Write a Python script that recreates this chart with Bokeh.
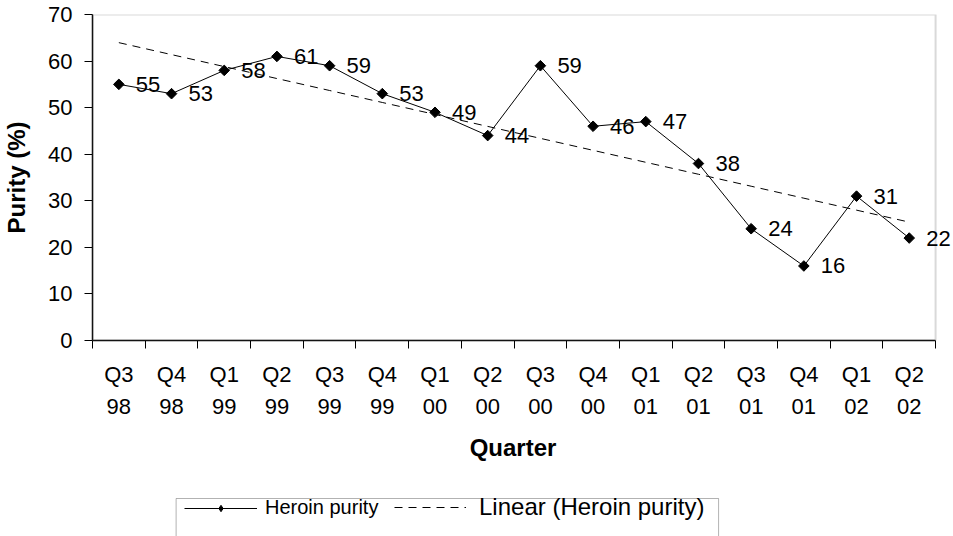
import numpy as np
from bokeh.plotting import figure
from bokeh.layouts import column
from bokeh.models import (Range1d, FixedTicker, Legend, LegendItem,
                          ColumnDataSource, LabelSet, BoxAnnotation)
from bokeh.core.properties import value
from bokeh.embed import file_html
from bokeh.resources import INLINE

# ---- data ----
quarter_labels = ["Q3\n98", "Q4\n98", "Q1\n99", "Q2\n99", "Q3\n99", "Q4\n99",
                  "Q1\n00", "Q2\n00", "Q3\n00", "Q4\n00", "Q1\n01", "Q2\n01",
                  "Q3\n01", "Q4\n01", "Q1\n02", "Q2\n02"]
purity = [55, 53, 58, 61, 59, 53, 49, 44, 59, 46, 47, 38, 24, 16, 31, 22]
y_ticks = [0, 10, 20, 30, 40, 50, 60, 70]
series_name = "Heroin purity"
trend_name = "Linear (Heroin purity)"

FONT = "Liberation Sans"

n = len(purity)
idx = np.arange(n)
xc = idx + 0.5
slope, intercept = np.polyfit(idx, purity, 1)
trend = intercept + slope * idx

src = ColumnDataSource(dict(x=xc, y=purity, lbl=[str(v) for v in purity], trend=trend))

W = 953
LEFT = 88
PLOT_RIGHT = 935          # pixel where the plot area ends
# the frame runs to the canvas edge so the last data label is not clipped
x_end = n * (W - LEFT) / (PLOT_RIGHT - LEFT)

# ---------------- main chart ----------------
p = figure(width=W, height=490, output_backend="svg", toolbar_location=None,
           x_range=Range1d(0, x_end), y_range=Range1d(0, 70),
           min_border_left=LEFT, min_border_right=0, min_border_top=14,
           min_border_bottom=150)
p.grid.visible = False
p.outline_line_color = None

# plot-area border (grey, like the original), spanning the category range
p.add_layout(BoxAnnotation(left=0, right=n, bottom=0, top=70, fill_alpha=0,
                           line_color="#808080", line_width=2))

xa = p.xaxis[0]
xa.bounds = (0, n)
xa.ticker = FixedTicker(ticks=list(xc), minor_ticks=list(range(n + 1)))
xa.major_label_overrides = {float(v): lab for v, lab in zip(xc, quarter_labels)}
xa.major_tick_line_color = None
xa.major_tick_out = 8
xa.major_tick_in = 0
xa.minor_tick_out = 8
xa.minor_tick_in = 0
xa.minor_tick_line_color = "black"
xa.minor_tick_line_width = 1
xa.major_label_standoff = 13
xa.major_label_text_font = FONT
xa.major_label_text_font_size = "22px"
xa.major_label_text_line_height = 1.3
xa.major_label_text_color = "black"
# trailing no-break spaces re-centre the title on the plot area (not the wider frame)
xa.axis_label = "Quarter" + "\u00a0" * 3
xa.axis_label_text_font = FONT
xa.axis_label_text_font_size = "24px"
xa.axis_label_text_font_style = "bold"
xa.axis_label_text_color = "black"
xa.axis_label_standoff = 12
xa.axis_line_color = "black"
xa.axis_line_width = 1.5

ya = p.yaxis[0]
ya.ticker = FixedTicker(ticks=y_ticks, minor_ticks=[])
ya.major_tick_out = 8
ya.major_tick_in = 0
ya.major_tick_line_color = "black"
ya.major_label_standoff = 12
ya.major_label_text_font = FONT
ya.major_label_text_font_size = "22px"
ya.major_label_text_color = "black"
ya.axis_label = "Purity (%)"
ya.axis_label_text_font = FONT
ya.axis_label_text_font_size = "24px"
ya.axis_label_text_font_style = "bold"
ya.axis_label_text_color = "black"
ya.axis_label_standoff = 15
ya.axis_line_color = "black"
ya.axis_line_width = 1.5
ya.minor_tick_line_color = None

p.line("x", "trend", source=src, line_color="black", line_width=1, line_dash="8 6")
p.line("x", "y", source=src, line_color="black", line_width=1)
p.scatter("x", "y", source=src, marker="square", angle=np.pi / 4,
          size=7.5, fill_color="black", line_color="black")

labels = LabelSet(x="x", y="y", text="lbl", source=src, x_offset=17,
                  text_align="left", text_baseline="middle",
                  text_font=value(FONT), text_font_size="22px", text_color="black")
p.add_layout(labels)

# ---------------- legend strip (pixel-scaled ranges) ----------------
p2 = figure(width=W, height=46, output_backend="svg", toolbar_location=None,
            x_range=Range1d(LEFT, W), y_range=Range1d(0, 46),
            min_border_left=LEFT, min_border_right=0, min_border_top=0,
            min_border_bottom=0, x_axis_location=None, y_axis_location=None)
p2.grid.visible = False
p2.outline_line_color = None

# legend keys reuse the same series (they fall outside this strip's ranges)
t2 = p2.line("x", "trend", source=src, line_color="black", line_width=1, line_dash="8 6")
l2 = p2.line("x", "y", source=src, line_color="black", line_width=1)
s2 = p2.scatter("x", "y", source=src, marker="diamond", size=11,
                fill_color="black", line_color="black")

legend_box = BoxAnnotation(left=172, right=717, bottom=-10, top=38,
                           fill_alpha=0, line_color="black", line_width=1)
p2.add_layout(legend_box)

leg1 = Legend(items=[LegendItem(label=series_name, renderers=[l2, s2])],
              location=(92, 17), glyph_width=73, glyph_height=16,
              label_standoff=8, padding=0, margin=0, spacing=0,
              label_text_font=FONT, label_text_font_size="20px",
              label_text_color="black",
              border_line_color=None, background_fill_alpha=0)
leg2 = Legend(items=[LegendItem(label=trend_name, renderers=[t2])],
              location=(302, 15), glyph_width=72, glyph_height=16,
              label_standoff=13, padding=0, margin=0, spacing=0,
              label_text_font=FONT, label_text_font_size="24px",
              label_text_color="black",
              border_line_color=None, background_fill_alpha=0)
p2.add_layout(leg1, "center")
p2.add_layout(leg2, "center")

layout = column(p, p2, spacing=0)
open("out.html", "w").write(file_html(layout, INLINE))
